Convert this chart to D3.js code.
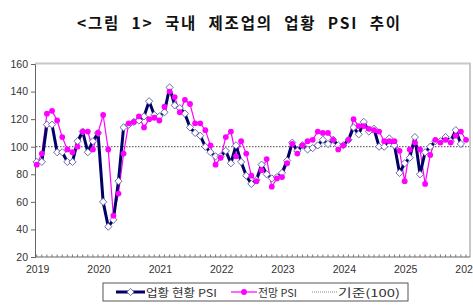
<!DOCTYPE html>
<html><head><meta charset="utf-8">
<script src="https://cdn.jsdelivr.net/npm/d3@7"></script>
<style>body{margin:0;background:#fff} svg{display:block}</style>
</head><body>
<svg id="c" width="473" height="308"></svg>
<script>
// ---- data ----
const years = ["2019","2020","2021","2022","2023","2024","2025","2026"];
const yTicks = [20,40,60,80,100,120,140,160];
// 업황 현황 PSI, monthly Jan 2019 – Dec 2025
const currentPSI = [
  89, 89,116,116, 96, 96, 89, 89,104,111, 96,104,
 110, 60, 42, 47, 75,114,116,118,119,122,133,123,
 122,125,143,130,128,124,114,110,108,100, 96, 93,
  93, 97, 88,101, 89, 79, 73, 76, 87, 80, 77, 78,
  81, 90,103, 97,101, 98, 99,101,105,102,105,101,
 101,105,114,109,118,111,113,100,100,106,101, 81,
  88, 92,107, 80, 96,100,104,104,107,104,112,102
];
// 전망 PSI, monthly Jan 2019 – Jan 2026
const outlookPSI = [
  87, 95,124,126,119,107, 98, 96,100,111,111, 98,
 110,123, 98, 50, 66, 95,117,118,122,114,120,121,
 119,129,140,136,125,134,131,117,117,112,101, 87,
  92,107,111, 93,104, 95, 79, 75, 83, 91, 71, 77,
  78, 88,102, 95,101,104,105,111,110,110,105, 98,
 101,105,120,115,115,113,112,111,104,104,104, 97,
  75, 98,103, 98, 73, 94,105,103,105,103,108,111,
 105
];
const baseline = 100;
const legendLabels = ["업황 현황 PSI","전망 PSI","기준(100)"];
const title = "<그림 1> 국내 제조업의 업황 PSI 추이";

// ---- drawing ----
const svg = d3.select("#c");
const navy = "#000066", mag = "#ff00ff";
const L = 35, R = 470, T = 63.5, B = 257;
const x = d3.scaleLinear().domain([0, 84]).range([36.7, 466]);
const y = d3.scaleLinear().domain([20, 160]).range([B, 64]);

// title
svg.append("text").attr("x", 238.5).attr("y", 22)
  .attr("text-anchor", "middle").attr("dominant-baseline", "central")
  .attr("font-family", "'Noto Sans CJK KR', sans-serif").attr("font-weight", "bold")
  .attr("font-size", 15.5).attr("fill", "#111")
  .attr("word-spacing", 6)
  .attr("textLength", 323).attr("lengthAdjust", "spacing")
  .text(title);

// frame
svg.append("path").attr("d", `M${L},${T}H${R}V${B}`)
  .attr("fill", "none").attr("stroke", "#c8c8c8").attr("stroke-width", 2);

// y axis
const ya = svg.append("g").attr("transform", `translate(${L},0)`)
  .call(d3.axisLeft(y).tickValues(yTicks).tickSize(4).tickPadding(3).tickFormat(d3.format("d")));
ya.select(".domain").attr("stroke", "#666");
ya.selectAll(".tick line").attr("stroke", "#666");
ya.selectAll("text").attr("font-family", "'Liberation Sans', Arial, sans-serif")
  .attr("font-size", 10.5).attr("fill", "#333");

// x axis: line with monthly ticks
svg.append("line").attr("x1", L).attr("x2", R).attr("y1", B).attr("y2", B)
  .attr("stroke", "#666").attr("stroke-width", 1);
svg.append("g").selectAll("line").data(d3.range(0, 85)).join("line")
  .attr("x1", d => x(d)).attr("x2", d => x(d)).attr("y1", B).attr("y2", B - 2.5)
  .attr("stroke", "#777").attr("stroke-width", 1);
svg.append("g").selectAll("text").data(years).join("text")
  .attr("x", (d, i) => x(i * 12) + 1).attr("y", 273)
  .attr("text-anchor", "middle")
  .attr("font-family", "'Liberation Sans', Arial, sans-serif")
  .attr("font-size", 10.5).attr("fill", "#333").text(d => d);

// baseline
svg.append("line").attr("x1", L + 1).attr("x2", R - 1)
  .attr("y1", y(baseline)).attr("y2", y(baseline))
  .attr("stroke", "#444").attr("stroke-width", 1).attr("stroke-dasharray", "1.5,1.5");

const line = d3.line().x((d, i) => x(i)).y(d => y(d));
svg.append("path").datum(outlookPSI).attr("d", line)
  .attr("fill", "none").attr("stroke", mag).attr("stroke-width", 1.2);
svg.append("path").datum(currentPSI).attr("d", line)
  .attr("fill", "none").attr("stroke", navy).attr("stroke-width", 3).attr("stroke-linejoin", "round");

const dia = r => `M0,${-r}L${r},0L0,${r}L${-r},0Z`;
svg.append("g").selectAll("path").data(currentPSI).join("path")
  .attr("transform", (d, i) => `translate(${x(i)},${y(d)})`)
  .attr("d", dia(3.6)).attr("fill", "#fff").attr("stroke", "#5a5aa8").attr("stroke-width", 0.9);
svg.append("g").selectAll("circle").data(outlookPSI).join("circle")
  .attr("cx", (d, i) => x(i)).attr("cy", d => y(d)).attr("r", 2.9).attr("fill", mag);

// legend
const lg = svg.append("g");
lg.append("rect").attr("x", 103).attr("y", 283).attr("width", 305).attr("height", 18)
  .attr("fill", "#fff").attr("stroke", "#555").attr("stroke-width", 1);
const ly = 292;
const lf = "'Noto Sans CJK KR', sans-serif";
lg.append("line").attr("x1", 116).attr("x2", 145).attr("y1", ly).attr("y2", ly)
  .attr("stroke", navy).attr("stroke-width", 3);
lg.append("path").attr("transform", `translate(130.5,${ly})`).attr("d", dia(3.6))
  .attr("fill", "#fff").attr("stroke", "#5a5aa8").attr("stroke-width", 0.9);
lg.append("line").attr("x1", 231).attr("x2", 257).attr("y1", ly).attr("y2", ly)
  .attr("stroke", mag).attr("stroke-width", 1.2);
lg.append("circle").attr("cx", 244).attr("cy", ly).attr("r", 2.9).attr("fill", mag);
lg.append("line").attr("x1", 312).attr("x2", 337).attr("y1", ly).attr("y2", ly)
  .attr("stroke", "#888").attr("stroke-width", 1).attr("stroke-dasharray", "1,1");
const lx = [146, 258, 338], lw = [71, 39, 62];
lg.selectAll("text.l").data(legendLabels).join("text").attr("class", "l")
  .attr("x", (d, i) => lx[i]).attr("y", ly).attr("dominant-baseline", "central")
  .attr("font-family", lf).attr("font-size", 11).attr("fill", "#333")
  .attr("textLength", (d, i) => lw[i]).attr("lengthAdjust", "spacingAndGlyphs")
  .text(d => d);
</script>
</body></html>
